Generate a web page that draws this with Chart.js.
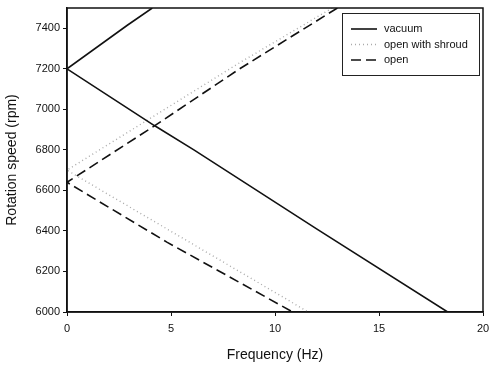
<!DOCTYPE html>
<html>
<head>
<meta charset="utf-8">
<script src="https://cdn.jsdelivr.net/npm/chart.js@4.4.0/dist/chart.umd.min.js"></script>
<style>
  html, body { margin: 0; padding: 0; background: #fff; }
  #box { width: 490px; height: 368px; }
</style>
</head>
<body>
<div id="box"><canvas id="grafico"></canvas></div>
<script>
// dados (frequência em Hz, rotação em rpm)
const freqVacuum = [4.1, 2.9, 0, 4.2, 6.1, 12, 18.3];
const rpmVacuum  = [7500, 7415, 7200, 6920, 6800, 6410, 6000];

const freqShroud = [12.75, 8.3, 0, 2.2, 11.6];
const rpmShroud  = [7500, 7230, 6700, 6567, 6000];

const freqOpen = [13.0, 8.3, 4.2, 0, 4.8, 10.85];
const rpmOpen  = [7500, 7200, 6918, 6640, 6345, 6000];

const xTicks = [0, 5, 10, 15, 20];
const yTicks = [6000, 6200, 6400, 6600, 6800, 7000, 7200, 7400];

const fonte = 'Arial, "Liberation Sans", sans-serif';

function pontos(xs, ys) {
    return xs.map((x, i) => ({ x: x, y: ys[i] }));
}

// moldura em volta da área do gráfico + legenda com caixa
const moldura = {
    id: 'moldura',
    afterDraw(chart) {
        const c = chart.ctx;
        const a = chart.chartArea;
        c.save();
        c.strokeStyle = '#111';
        c.lineWidth = 1.5;
        c.setLineDash([]);
        c.strokeRect(a.left, a.top, a.right - a.left, a.bottom - a.top);

        // legenda
        const lx = 342, ly = 13, lw = 137, lh = 62;
        c.fillStyle = '#fff';
        c.fillRect(lx, ly, lw, lh);
        c.lineWidth = 1;
        c.strokeStyle = '#222';
        c.strokeRect(lx + 0.5, ly + 0.5, lw, lh);
        c.font = '11px ' + fonte;
        c.textBaseline = 'middle';
        chart.data.datasets.forEach((ds, i) => {
            const yy = ly + 16 + i * 15.5;
            c.strokeStyle = ds.borderColor;
            c.lineWidth = ds.borderWidth;
            c.setLineDash(ds.borderDash || []);
            c.beginPath();
            c.moveTo(351, yy);
            c.lineTo(377, yy);
            c.stroke();
            c.fillStyle = '#111';
            c.fillText(ds.label, 384, yy);
        });
        c.restore();
    }
};

const config = {
    type: 'scatter',
    data: {
        datasets: [{
            label: 'vacuum',
            data: pontos(freqVacuum, rpmVacuum),
            borderColor: '#111',
            borderWidth: 1.6,
            showLine: true,
            pointRadius: 0
        }, {
            label: 'open with shroud',
            data: pontos(freqShroud, rpmShroud),
            borderColor: '#aaa',
            borderWidth: 1.4,
            borderDash: [1, 3],
            showLine: true,
            pointRadius: 0
        }, {
            label: 'open',
            data: pontos(freqOpen, rpmOpen),
            borderColor: '#111',
            borderWidth: 1.6,
            borderDash: [10, 5],
            showLine: true,
            pointRadius: 0
        }]
    },
    options: {
        animation: false,
        responsive: true,
        maintainAspectRatio: false,
        layout: { padding: { left: 0, right: 7, top: 8, bottom: 0 } },
        scales: {
            x: {
                type: 'linear',
                min: 0,
                max: 20,
                afterBuildTicks: s => { s.ticks = xTicks.map(v => ({ value: v })); },
                afterFit: s => { s.height = 56; s.paddingLeft = 0; s.paddingRight = 0; },
                grid: { drawOnChartArea: false, tickLength: 4, color: '#111' },
                border: { color: '#111', width: 1.5 },
                ticks: {
                    color: '#111',
                    font: { family: fonte, size: 11 },
                    padding: 6,
                    callback: v => String(v)
                },
                title: {
                    display: true,
                    text: 'Frequency (Hz)',
                    color: '#111',
                    font: { family: fonte, size: 14 },
                    padding: { top: 9 }
                }
            },
            y: {
                type: 'linear',
                min: 6000,
                max: 7500,
                afterBuildTicks: s => { s.ticks = yTicks.map(v => ({ value: v })); },
                afterFit: s => { s.width = 67; s.paddingTop = 0; s.paddingBottom = 0; },
                grid: { drawOnChartArea: false, tickLength: 4, color: '#111' },
                border: { color: '#111', width: 1.5 },
                ticks: {
                    color: '#111',
                    font: { family: fonte, size: 11 },
                    padding: 3,
                    callback: v => String(v)
                },
                title: {
                    display: true,
                    text: 'Rotation speed (rpm)',
                    color: '#111',
                    font: { family: fonte, size: 14 },
                    padding: { bottom: 4 }
                }
            }
        },
        plugins: {
            legend: { display: false },
            tooltip: { enabled: false }
        }
    },
    plugins: [moldura]
};

const chart = new Chart(document.getElementById('grafico').getContext('2d'), config);
</script>
</body>
</html>
